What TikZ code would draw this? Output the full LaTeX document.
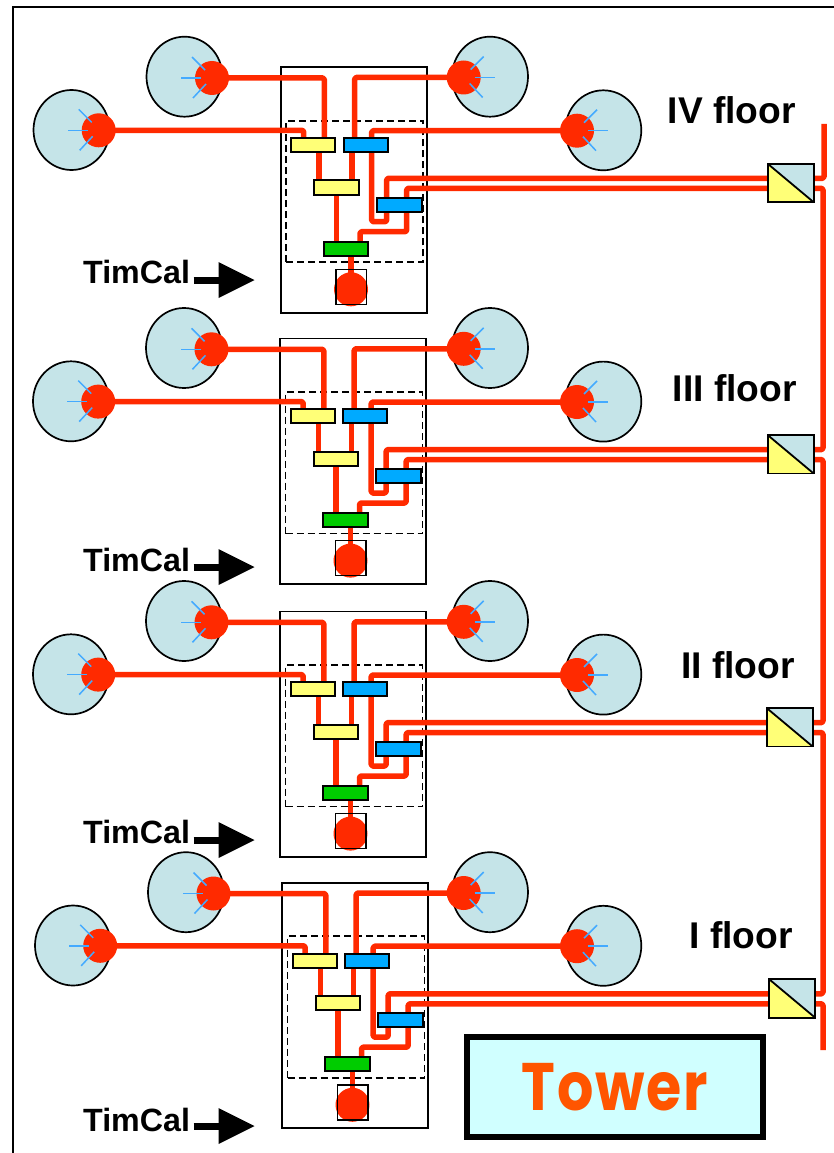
\documentclass[tikz,border=0pt]{standalone}
\usepackage{fontspec}
\setmainfont{Liberation Sans}
\newfontfamily\towerfont[LetterSpace=3]{Poppins}
\usetikzlibrary{shapes.geometric,calc}
\definecolor{fibre}{HTML}{FF2A00}
\definecolor{pmtfill}{HTML}{C5E4E8}
\definecolor{yel}{HTML}{FFFF77}
\definecolor{blu}{HTML}{00AAFF}
\definecolor{grn}{HTML}{00CC00}
\definecolor{tick}{HTML}{44AAFF}
\definecolor{towerbg}{HTML}{D0FFFF}
\definecolor{towertx}{HTML}{FF5500}
\tikzset{
  fib/.style={draw=fibre,line width=5.5pt,line join=round,rounded corners=1.5pt},
  pmt/.style={ellipse,draw=black,fill=pmtfill,line width=1.7pt,minimum width=76pt,minimum height=80pt,inner sep=0pt},
  dot/.style={circle,fill=fibre,minimum size=34pt,inner sep=0pt},
  ticks/.style={draw=tick,line width=1.5pt},
  chip/.style={rectangle,draw=black,line width=2pt,minimum width=44pt,minimum height=14pt,inner sep=0pt},
  rack/.style={rectangle,draw=black,line width=1.8pt,inner sep=0pt},
  dash box/.style={rectangle,draw=black,line width=1.7pt,dash pattern=on 7pt off 4pt,inner sep=0pt},
  split/.style={rectangle,draw=black,line width=1.8pt,fill=pmtfill,minimum width=44pt,minimum height=36.5pt,inner sep=0pt},
  floorlabel/.style={font=\bfseries\fontsize{37.2}{37}\selectfont,anchor=base east,inner sep=0pt},
  timlabel/.style={font=\bfseries\fontsize{32.2}{32}\selectfont,anchor=base west,inner sep=0pt},
}
% #1 name, #2 dx rack and left side, #3 dy, #4 dx of splitter
\newcommand{\towerfloor}[4]{
\begin{scope}[shift={(#2,#3)}]
  \node[rack,minimum width=146pt,minimum height=245.5pt] (rack#1) at (353.6,189.9) {};
  \node[dash box,minimum width=137pt,minimum height=141.5pt] (dbox#1) at (354.5,191.5) {};
  \node[pmt] (pa#1) at (71.5,130) {};
  \node[pmt] (pb#1) at (184.5,76.7) {};
  \node[pmt] (pc#1) at ({490-#2},76.7) {};
  \node[pmt] (pd#1) at ({603.3-#2},130.3) {};
  \node[dot] (ra#1) at (98.7,130.3) {};
  \node[dot] (rb#1) at (212,78) {};
  \node[dot] (rc#1) at ({463.7-#2},77.5) {};
  \node[dot] (rd#1) at ({577-#2},130.7) {};
  \node[dot] (ro#1) at (351,289.3) {};
  \foreach \n/\s in {ra/-1,rb/-1,rc/1,rd/1}{
    \draw[ticks] ($(\n#1.center)+(\s*11,0)$) -- ($(\n#1.center)+(\s*31,0)$);
    \draw[ticks] ($(\n#1.center)+(\s*7,-8)$) -- ($(\n#1.center)+(\s*20,-21)$);
    \draw[ticks] ($(\n#1.center)+(\s*6,6)$) -- ($(\n#1.center)+(\s*19,20)$);
  }
  \coordinate (xa#1) at (303.7,145);
  \coordinate (xb#1) at (324.3,145);
  \coordinate (xc#1) at (354.7,145);
  \coordinate (xd#1) at (371.7,145);
  \coordinate (ta#1) at (386.7,221.7);
  \coordinate (fu#1) at (386.7,178.3);
  \coordinate (fl#1) at (406.7,188.3);
  \coordinate (tb#1) at (406.7,231.7);
  \coordinate (tc#1) at (360,231.7);
  \coordinate (v1#1) at (319,187);
  \coordinate (v2#1) at (352,187);
  \coordinate (v3#1) at (336.7,248);
  \coordinate (v4#1) at (360,248);
  \node[split] (spb#1) at ({790.7+#4-#2},183) {};
  \draw[fib] (ra#1.center) -| (xa#1);
  \draw[fib] (rb#1.center) -| (xb#1);
  \draw[fib] (rc#1.center) -| (xc#1);
  \draw[fib] (rd#1.center) -| (xd#1) |- (ta#1) -- (fu#1) -- (fu#1 -| spb#1.center);
  \draw[fib] (fl#1 -| spb#1.center) -- (fl#1) -- (tb#1) -- (tc#1) -- (v4#1);
  \draw[fib] (v1#1 |- xa#1) -- (v1#1);
  \draw[fib] (v2#1 |- xa#1) -- (v2#1);
  \draw[fib] (v3#1 |- v1#1) -- (v3#1);
  \draw[fib] (ro#1.center |- v3#1) -- (ro#1.center);
  \node[chip,fill=yel] (ya#1) at (313,145) {};
  \node[chip,fill=blu] (ba#1) at (365.7,145) {};
  \node[chip,fill=yel,minimum width=44.5pt,minimum height=14.5pt] (yb#1) at (336.4,187.5) {};
  \node[chip,fill=blu,minimum width=45pt] (bb#1) at (399.2,204.7) {};
  \node[chip,fill=grn,minimum width=44.5pt] (gg#1) at (346,248.7) {};
  \node[rectangle,draw=black,line width=1.6pt,minimum width=30.7pt,minimum height=35pt,inner sep=0pt] (oo#1) at (351.3,286.8) {};
\end{scope}
}
% #1 name, #2 baseline, #3 arrow y
\newcommand{\timcal}[3]{
  \node[timlabel] (tl#1) at (83,#2) {TimCal};
  \coordinate (ts#1) at (193.5,#3);
  \coordinate (te#1) at (220,#3);
  \draw[line width=7pt] (ts#1) -- (te#1);
  \fill (218.5,#3-18) -- (254.5,#3) -- (218.5,#3+18) -- cycle;
}
\begin{document}
\begin{tikzpicture}[x=1pt,y=-1pt]
\useasboundingbox (0,0) rectangle (834,1153);
\draw[line width=2pt] (13,1153) -- (13,7) -- (834,7);
\towerfloor{D}{0}{0}{0}
\towerfloor{C}{-0.5}{271.3}{0}
\towerfloor{B}{-0.5}{544.3}{-1}
\towerfloor{A}{1.5}{815.5}{1.5}
% bus
\coordinate (bustop) at (824,124);
\coordinate (busend) at (823,1050);
\draw[fib] (bustop) |- (spbD.center |- fuD);
\draw[fib] (spbD.center |- flD) -| (823,400) |- (spbC.center |- fuC);
\draw[fib] (spbC.center |- flC) -| (823,600) |- (spbB.center |- fuB);
\draw[fib] (spbB.center |- flB) -| (823,900) |- (spbA.center |- fuA);
\draw[fib] (spbA.center |- flA) -| (busend);
\foreach \n in {A,B,C,D}{
  \fill[yel] (spb\n.north west) -- (spb\n.south east) -- (spb\n.south west) -- cycle;
  \fill[pmtfill] (spb\n.north west) -- (spb\n.south east) -- (spb\n.north east) -- cycle;
  \draw[line width=1.8pt] (spb\n.north west) -- (spb\n.south east);
  \draw[line width=1.8pt] (spb\n.north west) rectangle (spb\n.south east);
}
\node[floorlabel] (fD) at (796,124) {IV floor};
\node[floorlabel] (fC) at (797,401) {III floor};
\node[floorlabel] (fB) at (795,678) {II floor};
\node[floorlabel] (fA) at (793,948) {I floor};
\timcal{D}{283.3}{280}
\timcal{C}{571}{567}
\timcal{B}{843.5}{840}
\timcal{A}{1131}{1126}
\node[rectangle,draw=black,line width=6pt,fill=towerbg,minimum width=296pt,minimum height=100pt,inner sep=0pt] (tower) at (615,1087) {};
\node[text=towertx,inner sep=0pt,font=\towerfont\bfseries\fontsize{56}{56}\selectfont] (towertext) at (615,1087) {\scalebox{1.02}[1.2]{Tower}};
\end{tikzpicture}
\end{document}
